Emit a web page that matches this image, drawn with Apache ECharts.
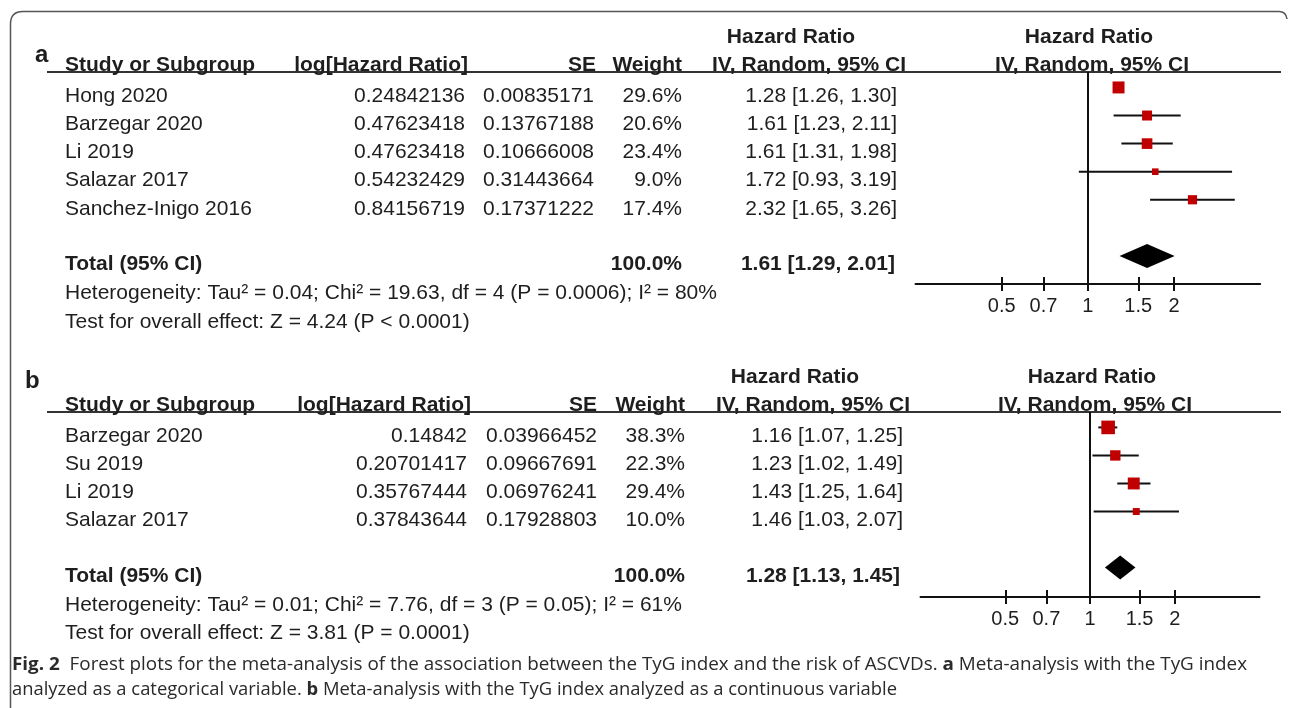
<!DOCTYPE html>
<html><head><meta charset="utf-8">
<script src="https://cdn.jsdelivr.net/npm/echarts@6/dist/echarts.min.js"></script>
<style>html,body{margin:0;padding:0;background:#fff}#c{width:1292px;height:708px}</style>
</head><body><div id="c"></div>
<script>
// ---------------- DATA ----------------
const TICKS = [0.5, 0.7, 1, 1.5, 2];

const A_STUDIES = ['Hong 2020', 'Barzegar 2020', 'Li 2019', 'Salazar 2017', 'Sanchez-Inigo 2016'];
const A_LOGHR   = ['0.24842136', '0.47623418', '0.47623418', '0.54232429', '0.84156719'];
const A_SE      = ['0.00835171', '0.13767188', '0.10666008', '0.31443664', '0.17371222'];
const A_WEIGHT  = [29.6, 20.6, 23.4, 9.0, 17.4];
const A_HR      = [1.28, 1.61, 1.61, 1.72, 2.32];
const A_LO      = [1.26, 1.23, 1.31, 0.93, 1.65];
const A_HI      = [1.30, 2.11, 1.98, 3.19, 3.26];
const A_TOTAL   = [1.61, 1.29, 2.01];
const A_HET  = 'Heterogeneity: Tau² = 0.04; Chi² = 19.63, df = 4 (P = 0.0006); I² = 80%';
const A_TEST = 'Test for overall effect: Z = 4.24 (P < 0.0001)';

const B_STUDIES = ['Barzegar 2020', 'Su 2019', 'Li 2019', 'Salazar 2017'];
const B_LOGHR   = ['0.14842', '0.20701417', '0.35767444', '0.37843644'];
const B_SE      = ['0.03966452', '0.09667691', '0.06976241', '0.17928803'];
const B_WEIGHT  = [38.3, 22.3, 29.4, 10.0];
const B_HR      = [1.16, 1.23, 1.43, 1.46];
const B_LO      = [1.07, 1.02, 1.25, 1.03];
const B_HI      = [1.25, 1.49, 1.64, 2.07];
const B_TOTAL   = [1.28, 1.13, 1.45];
const B_HET  = 'Heterogeneity: Tau² = 0.01; Chi² = 7.76, df = 3 (P = 0.05); I² = 61%';
const B_TEST = 'Test for overall effect: Z = 3.81 (P = 0.0001)';

const HEADERS = ['Study or Subgroup', 'log[Hazard Ratio]', 'SE', 'Weight', 'Hazard Ratio', 'IV, Random, 95% CI'];
const TOTAL_LABEL = 'Total (95% CI)';
const TOTAL_WEIGHT = '100.0%';

const CAPTION_1 = [['Fig. 2', true], ['  Forest plots for the meta-analysis of the association between the TyG index and the risk of ASCVDs. ', false], ['a', true], [' Meta-analysis with the TyG index', false]];
const CAPTION_2 = [['analyzed as a categorical variable. ', false], ['b', true], [' Meta-analysis with the TyG index analyzed as a continuous variable', false]];

// ---------------- LAYOUT ----------------
const FONT = 'Liberation Sans';
const FS = 21;
const INK = '#1e1e1e';
const PANELS = [
  { label: 'a', studies: A_STUDIES, logHR: A_LOGHR, se: A_SE, weight: A_WEIGHT, hr: A_HR, lo: A_LO, hi: A_HI, total: A_TOTAL, het: A_HET, test: A_TEST },
  { label: 'b', studies: B_STUDIES, logHR: B_LOGHR, se: B_SE, weight: B_WEIGHT, hr: B_HR, lo: B_LO, hi: B_HI, total: B_TOTAL, het: B_HET, test: B_TEST }
];
const LAYOUTS = [
  { grid: { left: 915.5, top: 72, width: 344.7, height: 212 }, yMin: -0.55, yMax: 7.0,
    labelX: 35, labelY: 55.5, hr1Y: 37.5, hdrY: 65.5, ruleY: 72,
    c: { study: 65, logHR: 465, logHRHdr: 468, se: 594, seHdr: 596, weight: 682, hr: 897, hrTot: 895, hdr1: 791, hdrIV: 906, hdr2: 1089, hdr2IV: 1092 } },
  { grid: { left: 920.5, top: 412, width: 339, height: 185 }, yMin: -0.55, yMax: 6.05,
    labelX: 25, labelY: 381, hr1Y: 377, hdrY: 405.5, ruleY: 412,
    c: { study: 65, logHR: 467, logHRHdr: 471, se: 597, seHdr: 597, weight: 685, hr: 903, hrTot: 900, hdr1: 795, hdrIV: 910, hdr2: 1092, hdr2IV: 1095 } }
];
const RULE_X = [47, 1281];
// vertical offsets of table text relative to the mark rows
const OFF = { study: 9, total: 8.2, het: 9.7, test: 10 };

const fmtCI = (h, l, u) => h.toFixed(2) + ' [' + l.toFixed(2) + ', ' + u.toFixed(2) + ']';

const chart = echarts.init(document.getElementById('c'), null, { renderer: 'canvas' });

function xAxisDef(k, main) {
  return {
    type: 'log', logBase: 2, gridIndex: k, min: 0.25, max: 4, position: 'bottom',
    axisLine: { show: main, onZero: false, lineStyle: { color: '#111', width: 2 } },
    axisTick: { show: true, inside: !main, length: 7, customValues: TICKS, lineStyle: { color: '#111', width: 2 } },
    axisLabel: { show: main, customValues: TICKS, margin: 12, fontSize: 20, fontFamily: FONT, color: INK,
      formatter: v => { const t = TICKS.find(t => Math.abs(t - v) < 1e-6); return t !== undefined ? String(t) : ''; } },
    splitLine: { show: false }, minorTick: { show: false }, minorSplitLine: { show: false }
  };
}

const opt = { animation: false, grid: [], xAxis: [], yAxis: [], series: [] };
PANELS.forEach((p, k) => {
  const L = LAYOUTS[k];
  opt.grid.push(Object.assign({ containLabel: false, outerBoundsMode: 'none' }, L.grid));
  opt.xAxis.push(xAxisDef(k, true), xAxisDef(k, false));
  opt.yAxis.push({ type: 'value', gridIndex: k, inverse: true, min: L.yMin, max: L.yMax, show: false });
  const totalRow = p.studies.length + 1;
  // whiskers
  opt.series.push({
    type: 'custom', xAxisIndex: 2 * k, yAxisIndex: k, z: 2, silent: true,
    data: p.studies.map((_, i) => [p.lo[i], p.hi[i], i]),
    encode: { x: [0, 1], y: 2 },
    renderItem: (params, api) => {
      const a = api.coord([api.value(0), api.value(2)]);
      const b = api.coord([api.value(1), api.value(2)]);
      return { type: 'line', shape: { x1: a[0], y1: a[1], x2: b[0], y2: b[1] }, style: { stroke: '#111', lineWidth: 2 } };
    },
    markLine: { silent: true, symbol: ['none', 'none'], label: { show: false },
      lineStyle: { color: '#111', width: 2, type: 'solid' }, data: [{ xAxis: 1 }] }
  });
  // squares
  opt.series.push({
    type: 'scatter', xAxisIndex: 2 * k, yAxisIndex: k, z: 3, silent: true,
    symbol: 'rect', symbolSize: v => 2.2 * Math.sqrt(v[2]),
    itemStyle: { color: '#c00000', opacity: 1 },
    data: p.studies.map((_, i) => [p.hr[i], i, p.weight[i]])
  });
  // diamond
  opt.series.push({
    type: 'custom', xAxisIndex: 2 * k, yAxisIndex: k, z: 3, silent: true,
    data: [[p.total[0], p.total[1], p.total[2], totalRow]],
    encode: { x: [0, 1, 2], y: 3 },
    renderItem: (params, api) => {
      const c = api.coord([api.value(0), api.value(3)]);
      const l = api.coord([api.value(1), api.value(3)]);
      const r = api.coord([api.value(2), api.value(3)]);
      const h = 12;
      return { type: 'polygon', shape: { points: [[l[0], c[1]], [c[0], c[1] - h], [r[0], c[1]], [c[0], c[1] + h]] }, style: { fill: '#000' } };
    }
  });
});
chart.setOption(opt);

// ---------------- TEXT (table) ----------------
function txt(s, x, y, align, bold, size, family, color) {
  const f = (bold ? 'bold ' : '') + (size || FS) + 'px "' + (family || FONT) + '"';
  return { type: 'text', x: x, y: y, silent: true, z: 10,
    style: { text: s, fill: color || INK, font: f, align: align, verticalAlign: 'middle', textAlign: align, textVerticalAlign: 'middle' } };
}
const G = [];
// border (open on the right, rounded top corners)
const BSTYLE = { stroke: '#555', lineWidth: 1.5, fill: null };
G.push({ type: 'line', silent: true, shape: { x1: 10.5, y1: 708, x2: 10.5, y2: 24 }, style: BSTYLE });
G.push({ type: 'bezierCurve', silent: true, shape: { x1: 10.5, y1: 24, cpx1: 10.5, cpy1: 11.5, x2: 23, y2: 11.5 }, style: BSTYLE });
G.push({ type: 'line', silent: true, shape: { x1: 23, y1: 11.5, x2: 1279, y2: 11.5 }, style: BSTYLE });
G.push({ type: 'bezierCurve', silent: true, shape: { x1: 1279, y1: 11.5, cpx1: 1286, cpy1: 11.5, x2: 1287, y2: 19 }, style: BSTYLE });

PANELS.forEach((p, k) => {
  const L = LAYOUTS[k], c = L.c;
  const rowPx = r => chart.convertToPixel({ yAxisIndex: k }, r);
  G.push(txt(p.label, L.labelX, L.labelY, 'left', true, 24));
  G.push(txt(HEADERS[4], c.hdr1, L.hr1Y, 'center', true));
  G.push(txt(HEADERS[4], c.hdr2, L.hr1Y, 'center', true));
  G.push(txt(HEADERS[0], c.study, L.hdrY, 'left', true));
  G.push(txt(HEADERS[1], c.logHRHdr, L.hdrY, 'right', true));
  G.push(txt(HEADERS[2], c.seHdr, L.hdrY, 'right', true));
  G.push(txt(HEADERS[3], c.weight, L.hdrY, 'right', true));
  G.push(txt(HEADERS[5], c.hdrIV, L.hdrY, 'right', true));
  G.push(txt(HEADERS[5], c.hdr2IV, L.hdrY, 'center', true));
  G.push({ type: 'line', silent: true, shape: { x1: RULE_X[0], y1: L.ruleY, x2: RULE_X[1], y2: L.ruleY }, style: { stroke: '#333', lineWidth: 2 } });
  p.studies.forEach((s, i) => {
    const y = rowPx(i) + OFF.study;
    G.push(txt(s, c.study, y, 'left', false));
    G.push(txt(p.logHR[i], c.logHR, y, 'right', false));
    G.push(txt(p.se[i], c.se, y, 'right', false));
    G.push(txt(p.weight[i].toFixed(1) + '%', c.weight, y, 'right', false));
    G.push(txt(fmtCI(p.hr[i], p.lo[i], p.hi[i]), c.hr, y, 'right', false));
  });
  const tr = p.studies.length + 1;
  const ty = rowPx(tr) + OFF.total;
  G.push(txt(TOTAL_LABEL, c.study, ty, 'left', true));
  G.push(txt(TOTAL_WEIGHT, c.weight, ty, 'right', true));
  G.push(txt(fmtCI(p.total[0], p.total[1], p.total[2]), c.hrTot, ty, 'right', true));
  G.push(txt(p.het, c.study, rowPx(tr + 1) + OFF.het, 'left', false));
  G.push(txt(p.test, c.study, rowPx(tr + 2) + OFF.test, 'left', false));
});

// ---------------- CAPTION ----------------
const CAP_FONT = 'Open Sans', CAP_FS = 18, CAP_INK = '#2a2a2a';
const ctx = document.createElement('canvas').getContext('2d');
function natWidth(segs) {
  let w = 0;
  segs.forEach(([s, b]) => { ctx.font = (b ? 'bold ' : '') + CAP_FS + 'px "' + CAP_FONT + '"'; w += ctx.measureText(s).width; });
  return w;
}
function capText(segs, x, y, targetW) {
  const rich = {
    b: { fontWeight: 'bold', fontSize: CAP_FS, fontFamily: CAP_FONT, fill: CAP_INK },
    r: { fontWeight: 'normal', fontSize: CAP_FS, fontFamily: CAP_FONT, fill: CAP_INK }
  };
  return { type: 'text', x: x, y: y, scaleX: targetW / natWidth(segs), silent: true,
    style: { text: segs.map(([s, b]) => '{' + (b ? 'b' : 'r') + '|' + s + '}').join(''), rich: rich,
      fontSize: CAP_FS, fontFamily: CAP_FONT, fill: CAP_INK, align: 'left', verticalAlign: 'middle', textAlign: 'left', textVerticalAlign: 'middle' } };
}
G.push(capText(CAPTION_1, 12, 665, 1247 - 12));
G.push(capText(CAPTION_2, 12, 689.5, 897 - 12));

chart.setOption({ graphic: { elements: G } });
</script>
</body></html>
